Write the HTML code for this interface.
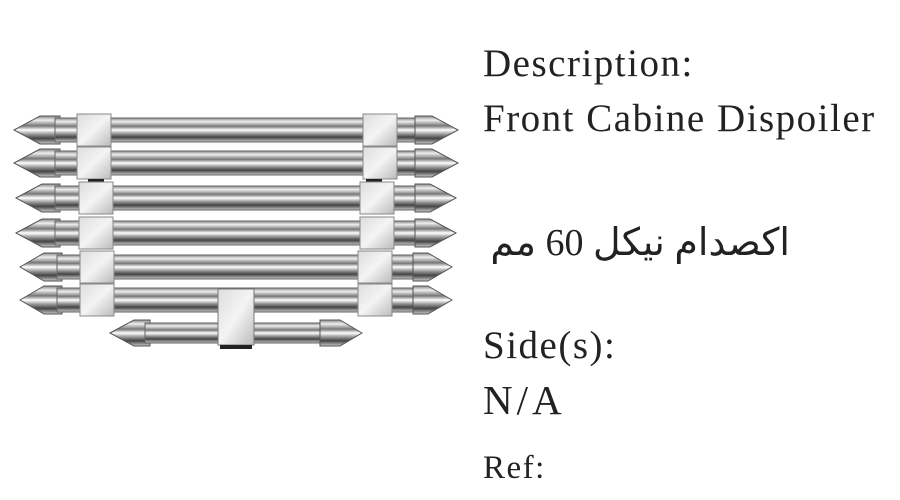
<!DOCTYPE html>
<html><head><meta charset="utf-8"><style>
body{margin:0;width:900px;height:500px;background:#fff;overflow:hidden;position:relative}
.t{position:absolute;left:483px;font-family:"Liberation Serif",serif;color:#222;white-space:nowrap;line-height:1;letter-spacing:1.5px}
</style></head><body>
<svg width="900" height="500" style="position:absolute;left:0;top:0">
<defs>
<linearGradient id="g" x1="0" y1="0" x2="0" y2="1">
<stop offset="0" stop-color="#888"/><stop offset=".15" stop-color="#eee"/><stop offset=".35" stop-color="#777"/><stop offset=".5" stop-color="#fff"/><stop offset=".65" stop-color="#999"/><stop offset=".8" stop-color="#444"/><stop offset="1" stop-color="#ccc"/>
</linearGradient>
<linearGradient id="b" x1="0" y1="0" x2="1" y2="1">
<stop offset="0" stop-color="#ddd"/><stop offset=".5" stop-color="#f4f4f4"/><stop offset="1" stop-color="#bbb"/>
</linearGradient>
</defs>
<g transform="translate(0,130)"><path d="M14,0 L40,-14 L60,-14 L60,14 L40,14Z" fill="url(#g)" stroke="#555"/><rect x="55" y="-12" width="365" height="24" fill="url(#g)" stroke="#666"/><path d="M458,0 L432,-14 L415,-14 L415,14 L432,14Z" fill="url(#g)" stroke="#555"/><rect x="77" y="-16" width="34" height="32" fill="url(#b)" stroke="#888"/><rect x="363" y="-16" width="34" height="32" fill="url(#b)" stroke="#888"/></g>
<g transform="translate(0,163)"><path d="M14,0 L40,-14 L60,-14 L60,14 L40,14Z" fill="url(#g)" stroke="#555"/><rect x="55" y="-12" width="365" height="24" fill="url(#g)" stroke="#666"/><path d="M458,0 L432,-14 L415,-14 L415,14 L432,14Z" fill="url(#g)" stroke="#555"/><rect x="77" y="-16" width="34" height="32" fill="url(#b)" stroke="#888"/><rect x="363" y="-16" width="34" height="32" fill="url(#b)" stroke="#888"/><rect x="88" y="16" width="16" height="6" fill="#222"/><rect x="366" y="16" width="16" height="6" fill="#222"/></g>
<g transform="translate(0,198)"><path d="M16,0 L42,-14 L60,-14 L60,14 L42,14Z" fill="url(#g)" stroke="#555"/><rect x="55" y="-12" width="365" height="24" fill="url(#g)" stroke="#666"/><path d="M456,0 L430,-14 L415,-14 L415,14 L430,14Z" fill="url(#g)" stroke="#555"/><rect x="79" y="-16" width="34" height="32" fill="url(#b)" stroke="#888"/><rect x="360" y="-16" width="34" height="32" fill="url(#b)" stroke="#888"/></g>
<g transform="translate(0,233)"><path d="M16,0 L42,-14 L60,-14 L60,14 L42,14Z" fill="url(#g)" stroke="#555"/><rect x="55" y="-12" width="365" height="24" fill="url(#g)" stroke="#666"/><path d="M456,0 L430,-14 L415,-14 L415,14 L430,14Z" fill="url(#g)" stroke="#555"/><rect x="79" y="-16" width="34" height="32" fill="url(#b)" stroke="#888"/><rect x="360" y="-16" width="34" height="32" fill="url(#b)" stroke="#888"/></g>
<g transform="translate(0,267)"><path d="M20,0 L44,-14 L62,-14 L62,14 L44,14Z" fill="url(#g)" stroke="#555"/><rect x="57" y="-12" width="360" height="24" fill="url(#g)" stroke="#666"/><path d="M452,0 L428,-14 L413,-14 L413,14 L428,14Z" fill="url(#g)" stroke="#555"/><rect x="80" y="-16" width="34" height="32" fill="url(#b)" stroke="#888"/><rect x="358" y="-16" width="34" height="32" fill="url(#b)" stroke="#888"/></g>
<g transform="translate(0,300)"><path d="M20,0 L44,-14 L62,-14 L62,14 L44,14Z" fill="url(#g)" stroke="#555"/><rect x="57" y="-12" width="360" height="24" fill="url(#g)" stroke="#666"/><path d="M452,0 L428,-14 L413,-14 L413,14 L428,14Z" fill="url(#g)" stroke="#555"/><rect x="80" y="-16" width="34" height="32" fill="url(#b)" stroke="#888"/><rect x="358" y="-16" width="34" height="32" fill="url(#b)" stroke="#888"/></g>
<g transform="translate(0,333)"><path d="M110,0 L134,-13 L150,-13 L150,13 L134,13Z" fill="url(#g)" stroke="#555"/><rect x="145" y="-10" width="180" height="20" fill="url(#g)" stroke="#666"/><path d="M362,0 L340,-13 L320,-13 L320,13 L340,13Z" fill="url(#g)" stroke="#555"/><rect x="218" y="-44" width="36" height="56" fill="url(#b)" stroke="#777"/><rect x="220" y="12" width="32" height="4" fill="#222"/></g>
</svg>
<div class="t" style="top:44px;font-size:39px">Description:</div>
<div class="t" style="top:99px;font-size:39px">Front Cabine Dispoiler</div>
<div class="t" style="top:224px;font-size:38px;left:487px;width:303px;text-align:right;letter-spacing:0;font-family:'Liberation Serif','DejaVu Sans',serif" dir="rtl">اكصدام نيكل 60 مم</div>
<div class="t" style="top:326px;font-size:39px">Side(s):</div>
<div class="t" style="top:380px;font-size:41px;letter-spacing:4px">N/A</div>
<div class="t" style="top:452px;font-size:33px">Ref:</div>
</body></html>
